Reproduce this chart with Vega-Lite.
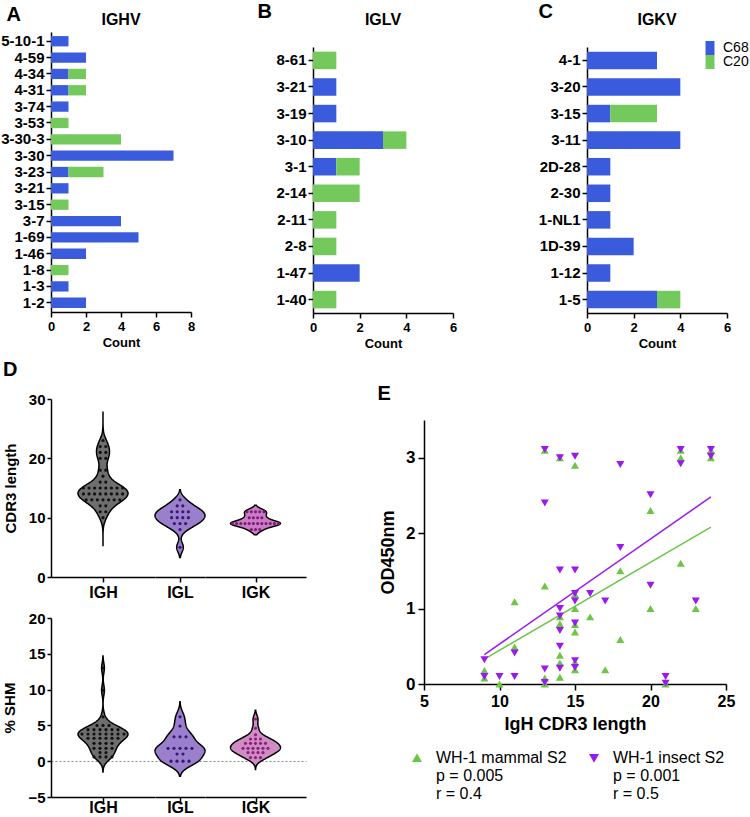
{
  "$schema": "https://vega.github.io/schema/vega-lite/v6.json",
  "background": "white",
  "padding": {"left": 0, "top": 1, "right": 0, "bottom": 0},
  "config": {
    "font": "Liberation Sans",
    "view": {"stroke": null},
    "axis": {"grid": false, "domainColor": "#000", "domainWidth": 1.5, "tickColor": "#000", "tickWidth": 1.5, "labelColor": "#000", "titleColor": "#000", "labelFontWeight": "bold", "titleFontWeight": "bold", "labelFont": "Liberation Sans", "titleFont": "Liberation Sans", "labelOverlap": false},
    "title": {"font": "Liberation Sans", "fontWeight": "bold", "color": "#000"},
    "legend": {"labelFont": "Liberation Sans", "labelColor": "#000", "padding": 0}
  },
  "datasets": {
    "bars": [
      {"p": "A", "gene": "5-10-1", "s": "C68", "n": 1},
      {"p": "A", "gene": "4-59", "s": "C68", "n": 2},
      {"p": "A", "gene": "4-34", "s": "C68", "n": 1},
      {"p": "A", "gene": "4-34", "s": "C20", "n": 1},
      {"p": "A", "gene": "4-31", "s": "C68", "n": 1},
      {"p": "A", "gene": "4-31", "s": "C20", "n": 1},
      {"p": "A", "gene": "3-74", "s": "C68", "n": 1},
      {"p": "A", "gene": "3-53", "s": "C20", "n": 1},
      {"p": "A", "gene": "3-30-3", "s": "C20", "n": 4},
      {"p": "A", "gene": "3-30", "s": "C68", "n": 7},
      {"p": "A", "gene": "3-23", "s": "C68", "n": 1},
      {"p": "A", "gene": "3-23", "s": "C20", "n": 2},
      {"p": "A", "gene": "3-21", "s": "C68", "n": 1},
      {"p": "A", "gene": "3-15", "s": "C20", "n": 1},
      {"p": "A", "gene": "3-7", "s": "C68", "n": 4},
      {"p": "A", "gene": "1-69", "s": "C68", "n": 5},
      {"p": "A", "gene": "1-46", "s": "C68", "n": 2},
      {"p": "A", "gene": "1-8", "s": "C20", "n": 1},
      {"p": "A", "gene": "1-3", "s": "C68", "n": 1},
      {"p": "A", "gene": "1-2", "s": "C68", "n": 2},
      {"p": "B", "gene": "8-61", "s": "C20", "n": 1},
      {"p": "B", "gene": "3-21", "s": "C68", "n": 1},
      {"p": "B", "gene": "3-19", "s": "C68", "n": 1},
      {"p": "B", "gene": "3-10", "s": "C68", "n": 3},
      {"p": "B", "gene": "3-10", "s": "C20", "n": 1},
      {"p": "B", "gene": "3-1", "s": "C68", "n": 1},
      {"p": "B", "gene": "3-1", "s": "C20", "n": 1},
      {"p": "B", "gene": "2-14", "s": "C20", "n": 2},
      {"p": "B", "gene": "2-11", "s": "C20", "n": 1},
      {"p": "B", "gene": "2-8", "s": "C20", "n": 1},
      {"p": "B", "gene": "1-47", "s": "C68", "n": 2},
      {"p": "B", "gene": "1-40", "s": "C20", "n": 1},
      {"p": "C", "gene": "4-1", "s": "C68", "n": 3},
      {"p": "C", "gene": "3-20", "s": "C68", "n": 4},
      {"p": "C", "gene": "3-15", "s": "C68", "n": 1},
      {"p": "C", "gene": "3-15", "s": "C20", "n": 2},
      {"p": "C", "gene": "3-11", "s": "C68", "n": 4},
      {"p": "C", "gene": "2D-28", "s": "C68", "n": 1},
      {"p": "C", "gene": "2-30", "s": "C68", "n": 1},
      {"p": "C", "gene": "1-NL1", "s": "C68", "n": 1},
      {"p": "C", "gene": "1D-39", "s": "C68", "n": 2},
      {"p": "C", "gene": "1-12", "s": "C68", "n": 1},
      {"p": "C", "gene": "1-5", "s": "C68", "n": 3},
      {"p": "C", "gene": "1-5", "s": "C20", "n": 1}
    ],
    "cdr3": [
      {"g": "IGH", "v": 23},
      {"g": "IGH", "v": 22}, {"g": "IGH", "v": 22},
      {"g": "IGH", "v": 21}, {"g": "IGH", "v": 21},
      {"g": "IGH", "v": 20}, {"g": "IGH", "v": 20},
      {"g": "IGH", "v": 18}, {"g": "IGH", "v": 18},
      {"g": "IGH", "v": 17},
      {"g": "IGH", "v": 16}, {"g": "IGH", "v": 16},
      {"g": "IGH", "v": 15}, {"g": "IGH", "v": 15}, {"g": "IGH", "v": 15}, {"g": "IGH", "v": 15},
      {"g": "IGH", "v": 15}, {"g": "IGH", "v": 15}, {"g": "IGH", "v": 15}, {"g": "IGH", "v": 15},
      {"g": "IGH", "v": 14}, {"g": "IGH", "v": 14}, {"g": "IGH", "v": 14}, {"g": "IGH", "v": 14},
      {"g": "IGH", "v": 14}, {"g": "IGH", "v": 14}, {"g": "IGH", "v": 14}, {"g": "IGH", "v": 14},
      {"g": "IGH", "v": 13}, {"g": "IGH", "v": 13}, {"g": "IGH", "v": 13}, {"g": "IGH", "v": 13},
      {"g": "IGH", "v": 13}, {"g": "IGH", "v": 13}, {"g": "IGH", "v": 13},
      {"g": "IGH", "v": 12}, {"g": "IGH", "v": 12},
      {"g": "IGH", "v": 11}, {"g": "IGH", "v": 11},
      {"g": "IGH", "v": 10},
      {"g": "IGL", "v": 13},
      {"g": "IGL", "v": 12}, {"g": "IGL", "v": 12},
      {"g": "IGL", "v": 11}, {"g": "IGL", "v": 11}, {"g": "IGL", "v": 11}, {"g": "IGL", "v": 11},
      {"g": "IGL", "v": 10}, {"g": "IGL", "v": 10}, {"g": "IGL", "v": 10}, {"g": "IGL", "v": 10},
      {"g": "IGL", "v": 9}, {"g": "IGL", "v": 9}, {"g": "IGL", "v": 9},
      {"g": "IGL", "v": 8},
      {"g": "IGL", "v": 5},
      {"g": "IGK", "v": 11}, {"g": "IGK", "v": 11}, {"g": "IGK", "v": 11}, {"g": "IGK", "v": 11}, {"g": "IGK", "v": 11},
      {"g": "IGK", "v": 10}, {"g": "IGK", "v": 10}, {"g": "IGK", "v": 10}, {"g": "IGK", "v": 10},
      {"g": "IGK", "v": 9}, {"g": "IGK", "v": 9}, {"g": "IGK", "v": 9}, {"g": "IGK", "v": 9},
      {"g": "IGK", "v": 9}, {"g": "IGK", "v": 9}, {"g": "IGK", "v": 9}, {"g": "IGK", "v": 9},
      {"g": "IGK", "v": 9}, {"g": "IGK", "v": 9}, {"g": "IGK", "v": 9}, {"g": "IGK", "v": 9},
      {"g": "IGK", "v": 8}, {"g": "IGK", "v": 8}, {"g": "IGK", "v": 8}
    ],
    "shm": [
      {"g": "IGH", "v": 13.0},
      {"g": "IGH", "v": 9.9},
      {"g": "IGH", "v": 6.2},
      {"g": "IGH", "v": 5.0}, {"g": "IGH", "v": 5.0}, {"g": "IGH", "v": 5.0},
      {"g": "IGH", "v": 4.4}, {"g": "IGH", "v": 4.4}, {"g": "IGH", "v": 4.4}, {"g": "IGH", "v": 4.4}, {"g": "IGH", "v": 4.4}, {"g": "IGH", "v": 4.4},
      {"g": "IGH", "v": 3.8}, {"g": "IGH", "v": 3.8}, {"g": "IGH", "v": 3.8}, {"g": "IGH", "v": 3.8},
      {"g": "IGH", "v": 3.8}, {"g": "IGH", "v": 3.8}, {"g": "IGH", "v": 3.8}, {"g": "IGH", "v": 3.8},
      {"g": "IGH", "v": 3.2}, {"g": "IGH", "v": 3.2}, {"g": "IGH", "v": 3.2}, {"g": "IGH", "v": 3.2}, {"g": "IGH", "v": 3.2}, {"g": "IGH", "v": 3.2},
      {"g": "IGH", "v": 2.5}, {"g": "IGH", "v": 2.5}, {"g": "IGH", "v": 2.5}, {"g": "IGH", "v": 2.5},
      {"g": "IGH", "v": 1.8}, {"g": "IGH", "v": 1.8}, {"g": "IGH", "v": 1.8}, {"g": "IGH", "v": 1.8},
      {"g": "IGH", "v": 1.2}, {"g": "IGH", "v": 1.2},
      {"g": "IGH", "v": 0.6}, {"g": "IGH", "v": 0.6}, {"g": "IGH", "v": 0.6}, {"g": "IGH", "v": 0.6},
      {"g": "IGL", "v": 6.2},
      {"g": "IGL", "v": 4.9},
      {"g": "IGL", "v": 3.4}, {"g": "IGL", "v": 3.4}, {"g": "IGL", "v": 3.4},
      {"g": "IGL", "v": 1.8}, {"g": "IGL", "v": 1.8}, {"g": "IGL", "v": 1.8}, {"g": "IGL", "v": 1.8}, {"g": "IGL", "v": 1.8},
      {"g": "IGL", "v": 1.0}, {"g": "IGL", "v": 1.0},
      {"g": "IGL", "v": 0.0}, {"g": "IGL", "v": 0.0}, {"g": "IGL", "v": 0.0}, {"g": "IGL", "v": 0.0},
      {"g": "IGK", "v": 5.9},
      {"g": "IGK", "v": 4.6},
      {"g": "IGK", "v": 3.7},
      {"g": "IGK", "v": 3.1}, {"g": "IGK", "v": 3.1}, {"g": "IGK", "v": 3.1},
      {"g": "IGK", "v": 2.5}, {"g": "IGK", "v": 2.5}, {"g": "IGK", "v": 2.5}, {"g": "IGK", "v": 2.5}, {"g": "IGK", "v": 2.5},
      {"g": "IGK", "v": 1.8}, {"g": "IGK", "v": 1.8}, {"g": "IGK", "v": 1.8}, {"g": "IGK", "v": 1.8}, {"g": "IGK", "v": 1.8}, {"g": "IGK", "v": 1.8},
      {"g": "IGK", "v": 1.2}, {"g": "IGK", "v": 1.2}, {"g": "IGK", "v": 1.2}, {"g": "IGK", "v": 1.2},
      {"g": "IGK", "v": 0.5}, {"g": "IGK", "v": 0.5}, {"g": "IGK", "v": 0.5}
    ],
    "od": [
      {"s": "WH-1 mammal S2", "x": 9, "y": 0.18}, {"s": "WH-1 mammal S2", "x": 9, "y": 0.08},
      {"s": "WH-1 mammal S2", "x": 10, "y": 0.0},
      {"s": "WH-1 mammal S2", "x": 11, "y": 1.09}, {"s": "WH-1 mammal S2", "x": 11, "y": 0.49},
      {"s": "WH-1 mammal S2", "x": 13, "y": 3.1}, {"s": "WH-1 mammal S2", "x": 13, "y": 1.3}, {"s": "WH-1 mammal S2", "x": 13, "y": 0.08}, {"s": "WH-1 mammal S2", "x": 13, "y": 0.0},
      {"s": "WH-1 mammal S2", "x": 14, "y": 3.0}, {"s": "WH-1 mammal S2", "x": 14, "y": 0.89}, {"s": "WH-1 mammal S2", "x": 14, "y": 0.8}, {"s": "WH-1 mammal S2", "x": 14, "y": 0.38}, {"s": "WH-1 mammal S2", "x": 14, "y": 0.28}, {"s": "WH-1 mammal S2", "x": 14, "y": 0.09},
      {"s": "WH-1 mammal S2", "x": 15, "y": 2.9}, {"s": "WH-1 mammal S2", "x": 15, "y": 1.19}, {"s": "WH-1 mammal S2", "x": 15, "y": 1.0}, {"s": "WH-1 mammal S2", "x": 15, "y": 0.79}, {"s": "WH-1 mammal S2", "x": 15, "y": 0.69}, {"s": "WH-1 mammal S2", "x": 15, "y": 0.29}, {"s": "WH-1 mammal S2", "x": 15, "y": 0.19},
      {"s": "WH-1 mammal S2", "x": 16, "y": 0.89},
      {"s": "WH-1 mammal S2", "x": 17, "y": 0.19},
      {"s": "WH-1 mammal S2", "x": 18, "y": 1.5}, {"s": "WH-1 mammal S2", "x": 18, "y": 0.59},
      {"s": "WH-1 mammal S2", "x": 20, "y": 2.3}, {"s": "WH-1 mammal S2", "x": 20, "y": 1.0},
      {"s": "WH-1 mammal S2", "x": 21, "y": 0.0},
      {"s": "WH-1 mammal S2", "x": 22, "y": 3.1}, {"s": "WH-1 mammal S2", "x": 22, "y": 3.0}, {"s": "WH-1 mammal S2", "x": 22, "y": 1.6},
      {"s": "WH-1 mammal S2", "x": 23, "y": 1.0},
      {"s": "WH-1 mammal S2", "x": 24, "y": 3.1}, {"s": "WH-1 mammal S2", "x": 24, "y": 3.0},
      {"s": "WH-1 insect S2", "x": 9, "y": 0.32}, {"s": "WH-1 insect S2", "x": 9, "y": 0.1},
      {"s": "WH-1 insect S2", "x": 10, "y": 0.1},
      {"s": "WH-1 insect S2", "x": 11, "y": 0.41}, {"s": "WH-1 insect S2", "x": 11, "y": 0.1},
      {"s": "WH-1 insect S2", "x": 13, "y": 3.11}, {"s": "WH-1 insect S2", "x": 13, "y": 2.4}, {"s": "WH-1 insect S2", "x": 13, "y": 0.2}, {"s": "WH-1 insect S2", "x": 13, "y": 0.02},
      {"s": "WH-1 insect S2", "x": 14, "y": 3.0}, {"s": "WH-1 insect S2", "x": 14, "y": 1.51}, {"s": "WH-1 insect S2", "x": 14, "y": 1.0}, {"s": "WH-1 insect S2", "x": 14, "y": 0.9}, {"s": "WH-1 insect S2", "x": 14, "y": 0.71}, {"s": "WH-1 insect S2", "x": 14, "y": 0.5}, {"s": "WH-1 insect S2", "x": 14, "y": 0.21},
      {"s": "WH-1 insect S2", "x": 15, "y": 3.02}, {"s": "WH-1 insect S2", "x": 15, "y": 1.51}, {"s": "WH-1 insect S2", "x": 15, "y": 1.2}, {"s": "WH-1 insect S2", "x": 15, "y": 1.1}, {"s": "WH-1 insect S2", "x": 15, "y": 0.81}, {"s": "WH-1 insect S2", "x": 15, "y": 0.31}, {"s": "WH-1 insect S2", "x": 15, "y": 0.22},
      {"s": "WH-1 insect S2", "x": 16, "y": 1.2},
      {"s": "WH-1 insect S2", "x": 17, "y": 1.1},
      {"s": "WH-1 insect S2", "x": 18, "y": 2.91}, {"s": "WH-1 insect S2", "x": 18, "y": 1.81},
      {"s": "WH-1 insect S2", "x": 20, "y": 2.51}, {"s": "WH-1 insect S2", "x": 20, "y": 1.31},
      {"s": "WH-1 insect S2", "x": 21, "y": 0.1}, {"s": "WH-1 insect S2", "x": 21, "y": 0.01},
      {"s": "WH-1 insect S2", "x": 22, "y": 3.11}, {"s": "WH-1 insect S2", "x": 22, "y": 2.92},
      {"s": "WH-1 insect S2", "x": 23, "y": 1.1},
      {"s": "WH-1 insect S2", "x": 24, "y": 3.11}, {"s": "WH-1 insect S2", "x": 24, "y": 3.02}
    ],
    "fit": [
      {"s": "WH-1 mammal S2", "x": 9, "y": 0.33}, {"s": "WH-1 mammal S2", "x": 24, "y": 2.08},
      {"s": "WH-1 insect S2", "x": 9, "y": 0.39}, {"s": "WH-1 insect S2", "x": 24, "y": 2.48}
    ]
  },
  "resolve": {"scale": {"color": "independent", "shape": "independent"}, "legend": {"color": "independent", "shape": "independent"}},
  "spacing": 10,
  "vconcat": [
    {
      "spacing": 62,
      "resolve": {"scale": {"color": "independent"}, "legend": {"color": "independent"}},
      "hconcat": [
        {
          "width": 140, "height": 280,
          "title": {"text": "IGHV", "fontSize": 16, "offset": 0, "dy": 24},
          "data": {"name": "bars"},
          "transform": [{"filter": {"field": "p", "equal": "A"}}],
          "mark": {"type": "bar"},
          "encoding": {
            "y": {"field": "gene", "type": "nominal", "sort": ["5-10-1", "4-59", "4-34", "4-31", "3-74", "3-53", "3-30-3", "3-30", "3-23", "3-21", "3-15", "3-7", "1-69", "1-46", "1-8", "1-3", "1-2"], "scale": {"paddingInner": 0.37, "paddingOuter": 0.25}, "axis": {"title": "A", "titleAngle": 0, "titleAlign": "left", "titleBaseline": "alphabetic", "titleX": -45, "titleY": -12, "titleFontSize": 20, "labelFontSize": 15, "tickSize": 5, "labelPadding": 2}},
            "x": {"field": "n", "type": "quantitative", "scale": {"domain": [0, 8], "nice": false}, "axis": {"values": [0, 2, 4, 6, 8], "title": "Count", "labelFontSize": 13, "titleFontSize": 13, "tickSize": 5, "labelPadding": 3, "titlePadding": 3, "labelFlush": false}},
            "color": {"field": "s", "type": "nominal", "scale": {"domain": ["C68", "C20"], "range": ["#3a5bdb", "#74c95c"]}, "legend": null},
            "order": {"field": "s", "sort": "descending"}
          }
        },
        {
          "spacing": 81,
          "resolve": {"scale": {"color": "independent"}, "legend": {"color": "independent"}},
          "hconcat": [
            {
              "spacing": 0,
              "bounds": "flush",
              "vconcat": [
                {
                  "width": 140, "height": 15,
                  "title": {"text": "IGLV", "fontSize": 16, "offset": 4},
                  "data": {"name": "bars"},
                  "mark": {"type": "rule", "opacity": 0},
                  "encoding": {}
                },
                {
                  "width": 140, "height": 266,
                  "data": {"name": "bars"},
                  "transform": [{"filter": {"field": "p", "equal": "B"}}],
                  "mark": {"type": "bar"},
                  "encoding": {
                    "y": {"field": "gene", "type": "nominal", "sort": ["8-61", "3-21", "3-19", "3-10", "3-1", "2-14", "2-11", "2-8", "1-47", "1-40"], "scale": {"paddingInner": 0.34, "paddingOuter": 0.175}, "axis": {"title": "B", "titleAngle": 0, "titleAlign": "left", "titleBaseline": "alphabetic", "titleX": -56, "titleY": -30, "titleFontSize": 20, "labelFontSize": 15, "tickSize": 5, "labelPadding": 2}},
                    "x": {"field": "n", "type": "quantitative", "scale": {"domain": [0, 6], "nice": false}, "axis": {"values": [0, 2, 4, 6], "title": "Count", "labelFontSize": 13, "titleFontSize": 13, "tickSize": 5, "labelPadding": 3, "titlePadding": 3, "labelFlush": false}},
                    "color": {"field": "s", "type": "nominal", "scale": {"domain": ["C68", "C20"], "range": ["#3a5bdb", "#74c95c"]}, "legend": null},
                    "order": {"field": "s", "sort": "descending"}
                  }
                }
              ]
            },
            {
              "spacing": 0,
              "bounds": "flush",
              "vconcat": [
                {
                  "width": 140, "height": 15,
                  "title": {"text": "IGKV", "fontSize": 16, "offset": 4},
                  "data": {"name": "bars"},
                  "mark": {"type": "rule", "opacity": 0},
                  "encoding": {}
                },
                {
                  "width": 140, "height": 266,
                  "data": {"name": "bars"},
                  "transform": [{"filter": {"field": "p", "equal": "C"}}],
                  "mark": {"type": "bar"},
                  "encoding": {
                    "y": {"field": "gene", "type": "nominal", "sort": ["4-1", "3-20", "3-15", "3-11", "2D-28", "2-30", "1-NL1", "1D-39", "1-12", "1-5"], "scale": {"paddingInner": 0.34, "paddingOuter": 0.175}, "axis": {"title": "C", "titleAngle": 0, "titleAlign": "left", "titleBaseline": "alphabetic", "titleX": -49, "titleY": -30, "titleFontSize": 20, "labelFontSize": 15, "tickSize": 5, "labelPadding": 2}},
                    "x": {"field": "n", "type": "quantitative", "scale": {"domain": [0, 6], "nice": false}, "axis": {"values": [0, 2, 4, 6], "title": "Count", "labelFontSize": 13, "titleFontSize": 13, "tickSize": 5, "labelPadding": 3, "titlePadding": 3, "labelFlush": false}},
                    "color": {"field": "s", "type": "nominal", "scale": {"domain": ["C68", "C20"], "range": ["#3a5bdb", "#74c95c"]}, "legend": {"title": null, "orient": "none", "legendX": 116, "legendY": 9, "symbolType": "M-0.64,-1H0.64V1H-0.64Z", "symbolSize": 196, "symbolStrokeWidth": 0, "labelFontSize": 14, "labelFontWeight": "normal", "labelOffset": 6, "rowPadding": 0}},
                    "order": {"field": "s", "sort": "descending"}
                  }
                }
              ]
            }
          ]
        }
      ]
    },
    {
      "spacing": 71,
      "resolve": {"scale": {"color": "independent", "shape": "independent"}, "legend": {"color": "independent", "shape": "independent"}},
      "hconcat": [
        {
          "title": {"text": "D", "anchor": "start", "fontSize": 20, "offset": 12},
          "spacing": 10,
          "vconcat": [
            {
              "spacing": 0,
              "bounds": "flush",
              "hconcat": [
                {
                  "width": 104, "height": 178,
                  "data": {"name": "cdr3"},
                  "transform": [{"filter": {"field": "g", "equal": "IGH"}}],
                  "layer": [
                    {
                      "transform": [{"density": "v", "bandwidth": 1.0, "extent": [5.2, 27.9], "steps": 200}],
                      "mark": {"type": "area", "orient": "horizontal", "fill": "#6e6e6e", "stroke": "#000", "strokeWidth": 1.5},
                      "encoding": {
                        "y": {"field": "value", "type": "quantitative", "scale": {"domain": [0, 30], "nice": false}, "axis": {"title": "CDR3 length", "values": [0, 10, 20, 30], "labelFontSize": 15, "titleFontSize": 15, "tickSize": 4, "labelPadding": 2, "titlePadding": 10}},
                        "x": {"field": "density", "type": "quantitative", "stack": "center", "impute": null, "scale": {"padding": 27, "nice": false, "zero": false}, "axis": null}
                      }
                    },
                    {
                      "transform": [{"window": [{"op": "row_number", "as": "id"}]}],
                      "mark": {"type": "circle", "size": 10, "color": "#111", "opacity": 1, "xOffset": -2.8},
                      "encoding": {
                        "y": {"field": "v", "type": "quantitative", "scale": {"domain": [0, 30], "nice": false}, "axis": {"title": "CDR3 length", "values": [0, 10, 20, 30], "labelFontSize": 15, "titleFontSize": 15, "tickSize": 4, "labelPadding": 2, "titlePadding": 10}},
                        "x": {"aggregate": "count", "type": "quantitative", "stack": "center", "scale": {"domain": [-5.29, 13.29], "nice": false, "zero": false}, "axis": {"orient": "bottom", "values": [4], "labels": false, "title": "IGH", "titleFontSize": 16, "tickSize": 5, "titlePadding": 2}},
                        "detail": {"field": "id", "type": "quantitative"}
                      }
                    }
                  ],
                  "resolve": {"scale": {"x": "independent"}}
                },
                {
                  "width": 50, "height": 178,
                  "data": {"name": "cdr3"},
                  "transform": [{"filter": {"field": "g", "equal": "IGL"}}],
                  "layer": [
                    {
                      "transform": [{"density": "v", "bandwidth": 0.8, "extent": [3.3, 14.7], "steps": 200}],
                      "mark": {"type": "area", "orient": "horizontal", "fill": "#9a80cc", "stroke": "#000", "strokeWidth": 1.5},
                      "encoding": {
                        "y": {"field": "value", "type": "quantitative", "scale": {"domain": [0, 30], "nice": false}, "axis": null},
                        "x": {"field": "density", "type": "quantitative", "stack": "center", "impute": null, "scale": {"padding": 0, "nice": false, "zero": false}, "axis": null}
                      }
                    },
                    {
                      "transform": [{"window": [{"op": "row_number", "as": "id"}]}],
                      "mark": {"type": "circle", "size": 10, "color": "#3a1573", "opacity": 1, "xOffset": -2.8},
                      "encoding": {
                        "y": {"field": "v", "type": "quantitative", "scale": {"domain": [0, 30], "nice": false}, "axis": null},
                        "x": {"aggregate": "count", "type": "quantitative", "stack": "center", "scale": {"domain": [-2.46, 6.46], "nice": false, "zero": false}, "axis": {"orient": "bottom", "values": [2], "labels": false, "title": "IGL", "titleFontSize": 16, "tickSize": 5, "titlePadding": 2}},
                        "detail": {"field": "id", "type": "quantitative"}
                      }
                    }
                  ],
                  "resolve": {"scale": {"x": "independent"}}
                },
                {
                  "width": 101, "height": 178,
                  "data": {"name": "cdr3"},
                  "transform": [{"filter": {"field": "g", "equal": "IGK"}}],
                  "layer": [
                    {
                      "transform": [{"density": "v", "bandwidth": 0.5, "extent": [7.1, 12.1], "steps": 200}],
                      "mark": {"type": "area", "orient": "horizontal", "fill": "#c87dc6", "stroke": "#000", "strokeWidth": 1.5},
                      "encoding": {
                        "y": {"field": "value", "type": "quantitative", "scale": {"domain": [0, 30], "nice": false}, "axis": null},
                        "x": {"field": "density", "type": "quantitative", "stack": "center", "impute": null, "scale": {"padding": 25.5, "nice": false, "zero": false}, "axis": null}
                      }
                    },
                    {
                      "transform": [{"window": [{"op": "row_number", "as": "id"}]}],
                      "mark": {"type": "circle", "size": 9, "color": "#7d1a70", "opacity": 1, "xOffset": -2.1},
                      "encoding": {
                        "y": {"field": "v", "type": "quantitative", "scale": {"domain": [0, 30], "nice": false}, "axis": null},
                        "x": {"aggregate": "count", "type": "quantitative", "stack": "center", "scale": {"domain": [-6.0, 18.0], "nice": false, "zero": false}, "axis": {"orient": "bottom", "values": [6], "labels": false, "title": "IGK", "titleFontSize": 16, "tickSize": 5, "titlePadding": 2}},
                        "detail": {"field": "id", "type": "quantitative"}
                      }
                    }
                  ],
                  "resolve": {"scale": {"x": "independent"}}
                }
              ]
            },
            {
              "spacing": 0,
              "bounds": "flush",
              "hconcat": [
                {
                  "width": 104, "height": 179,
                  "data": {"name": "shm"},
                  "transform": [{"filter": {"field": "g", "equal": "IGH"}}],
                  "layer": [
                    {
                      "transform": [{"density": "v", "bandwidth": 0.7, "extent": [-1.5, 14.7], "steps": 200}],
                      "mark": {"type": "area", "orient": "horizontal", "fill": "#6e6e6e", "stroke": "#000", "strokeWidth": 1.5},
                      "encoding": {
                        "y": {"field": "value", "type": "quantitative", "scale": {"domain": [-5, 20], "nice": false}, "axis": {"title": "% SHM", "values": [-5, 0, 5, 10, 15, 20], "labelFontSize": 15, "titleFontSize": 15, "tickSize": 4, "labelPadding": 2, "titlePadding": 10, "grid": true, "gridDash": [2, 2], "gridColor": "#888", "gridWidth": 1, "gridOpacity": {"condition": {"test": "datum.value === 0", "value": 1}, "value": 0}}},
                        "x": {"field": "density", "type": "quantitative", "stack": "center", "impute": null, "scale": {"padding": 27, "nice": false, "zero": false}, "axis": null}
                      }
                    },
                    {
                      "transform": [{"window": [{"op": "row_number", "as": "id"}]}],
                      "mark": {"type": "circle", "size": 10, "color": "#111", "opacity": 1, "xOffset": -3},
                      "encoding": {
                        "y": {"field": "v", "type": "quantitative", "scale": {"domain": [-5, 20], "nice": false}, "axis": {"title": "% SHM", "values": [-5, 0, 5, 10, 15, 20], "labelFontSize": 15, "titleFontSize": 15, "tickSize": 4, "labelPadding": 2, "titlePadding": 10, "grid": true, "gridDash": [2, 2], "gridColor": "#888", "gridWidth": 1, "gridOpacity": {"condition": {"test": "datum.value === 0", "value": 1}, "value": 0}}},
                        "x": {"aggregate": "count", "type": "quantitative", "stack": "center", "scale": {"domain": [-4.67, 12.67], "nice": false, "zero": false}, "axis": {"orient": "bottom", "values": [4], "labels": false, "title": "IGH", "titleFontSize": 16, "tickSize": 5, "titlePadding": -3}},
                        "detail": {"field": "id", "type": "quantitative"}
                      }
                    }
                  ],
                  "resolve": {"scale": {"x": "independent"}}
                },
                {
                  "width": 50, "height": 179,
                  "data": {"name": "shm"},
                  "transform": [{"filter": {"field": "g", "equal": "IGL"}}],
                  "layer": [
                    {
                      "transform": [{"density": "v", "bandwidth": 0.8, "extent": [-2.1, 8.3], "steps": 200}],
                      "mark": {"type": "area", "orient": "horizontal", "fill": "#9a80cc", "stroke": "#000", "strokeWidth": 1.5},
                      "encoding": {
                        "y": {"field": "value", "type": "quantitative", "scale": {"domain": [-5, 20], "nice": false}, "axis": {"values": [0], "labels": false, "ticks": false, "domain": false, "title": null, "grid": true, "gridDash": [2, 2], "gridColor": "#888", "gridWidth": 1}},
                        "x": {"field": "density", "type": "quantitative", "stack": "center", "impute": null, "scale": {"padding": 0, "nice": false, "zero": false}, "axis": null}
                      }
                    },
                    {
                      "transform": [{"window": [{"op": "row_number", "as": "id"}]}],
                      "mark": {"type": "circle", "size": 10, "color": "#3a1573", "opacity": 1, "xOffset": -3},
                      "encoding": {
                        "y": {"field": "v", "type": "quantitative", "scale": {"domain": [-5, 20], "nice": false}, "axis": {"values": [0], "labels": false, "ticks": false, "domain": false, "title": null, "grid": true, "gridDash": [2, 2], "gridColor": "#888", "gridWidth": 1}},
                        "x": {"aggregate": "count", "type": "quantitative", "stack": "center", "scale": {"domain": [-1.67, 6.67], "nice": false, "zero": false}, "axis": {"orient": "bottom", "values": [2.5], "labels": false, "title": "IGL", "titleFontSize": 16, "tickSize": 5, "titlePadding": -3}},
                        "detail": {"field": "id", "type": "quantitative"}
                      }
                    }
                  ],
                  "resolve": {"scale": {"x": "independent"}}
                },
                {
                  "width": 101, "height": 179,
                  "data": {"name": "shm"},
                  "transform": [{"filter": {"field": "g", "equal": "IGK"}}],
                  "layer": [
                    {
                      "transform": [{"density": "v", "bandwidth": 0.55, "extent": [-1.15, 7.1], "steps": 200}],
                      "mark": {"type": "area", "orient": "horizontal", "fill": "#d08cc4", "stroke": "#000", "strokeWidth": 1.5},
                      "encoding": {
                        "y": {"field": "value", "type": "quantitative", "scale": {"domain": [-5, 20], "nice": false}, "axis": {"values": [0], "labels": false, "ticks": false, "domain": false, "title": null, "grid": true, "gridDash": [2, 2], "gridColor": "#888", "gridWidth": 1}},
                        "x": {"field": "density", "type": "quantitative", "stack": "center", "impute": null, "scale": {"padding": 25.5, "nice": false, "zero": false}, "axis": null}
                      }
                    },
                    {
                      "transform": [{"window": [{"op": "row_number", "as": "id"}]}],
                      "mark": {"type": "circle", "size": 10, "color": "#8a2078", "opacity": 1, "xOffset": -2.5},
                      "encoding": {
                        "y": {"field": "v", "type": "quantitative", "scale": {"domain": [-5, 20], "nice": false}, "axis": {"values": [0], "labels": false, "ticks": false, "domain": false, "title": null, "grid": true, "gridDash": [2, 2], "gridColor": "#888", "gridWidth": 1}},
                        "x": {"aggregate": "count", "type": "quantitative", "stack": "center", "scale": {"domain": [-7.1, 13.1], "nice": false, "zero": false}, "axis": {"orient": "bottom", "values": [3], "labels": false, "title": "IGK", "titleFontSize": 16, "tickSize": 5, "titlePadding": -3}},
                        "detail": {"field": "id", "type": "quantitative"}
                      }
                    }
                  ],
                  "resolve": {"scale": {"x": "independent"}}
                }
              ]
            }
          ]
        },
        {
          "spacing": 0,
          "bounds": "flush",
          "vconcat": [
            {
              "width": 302, "height": 21,
              "title": {"text": "E", "anchor": "start", "fontSize": 20, "offset": 0, "dx": -46, "dy": 5},
              "data": {"name": "fit"},
              "mark": {"type": "rule", "opacity": 0},
              "encoding": {}
            },
            {
              "width": 302, "height": 264,
              "layer": [
                {
                  "data": {"name": "fit"},
                  "mark": {"type": "line", "strokeWidth": 1.5},
                  "encoding": {
                    "x": {"field": "x", "type": "quantitative", "scale": {"domain": [5, 25], "nice": false, "zero": false}, "axis": {"values": [5, 10, 15, 20, 25], "tickSize": 6, "labelFontSize": 16, "labelPadding": 3, "title": "IgH CDR3 length", "titleFontSize": 18, "titlePadding": 6, "labelFlush": false}},
                    "y": {"field": "y", "type": "quantitative", "scale": {"domain": [0, 3.5], "nice": false}, "axis": {"values": [0, 1, 2, 3], "format": "d", "tickSize": 6, "labelFontSize": 17, "labelPadding": 3, "title": "OD450nm", "titleFontSize": 18, "titlePadding": 8, "labelFlush": false}},
                    "color": {"field": "s", "type": "nominal", "scale": {"domain": ["WH-1 mammal S2", "WH-1 insect S2"], "range": ["#6cc644", "#9b19f0"]}},
                    "detail": {"field": "s", "type": "nominal"}
                  }
                },
                {
                  "data": {"name": "od"},
                  "mark": {"type": "point", "filled": true, "size": 65, "opacity": 1},
                  "encoding": {
                    "x": {"field": "x", "type": "quantitative", "scale": {"domain": [5, 25], "nice": false, "zero": false}, "axis": {"values": [5, 10, 15, 20, 25], "tickSize": 6, "labelFontSize": 16, "labelPadding": 3, "title": "IgH CDR3 length", "titleFontSize": 18, "titlePadding": 6, "labelFlush": false}},
                    "y": {"field": "y", "type": "quantitative", "scale": {"domain": [0, 3.5], "nice": false}, "axis": {"values": [0, 1, 2, 3], "format": "d", "tickSize": 6, "labelFontSize": 17, "labelPadding": 3, "title": "OD450nm", "titleFontSize": 18, "titlePadding": 8, "labelFlush": false}},
                    "color": {"field": "s", "type": "nominal", "scale": {"domain": ["WH-1 mammal S2", "WH-1 insect S2"], "range": ["#6cc644", "#9b19f0"]},
                      "legend": {
                        "title": null, "orient": "none", "legendX": -15, "legendY": 351, "direction": "horizontal",
                        "columnPadding": 19, "labelFontSize": 16, "labelFontWeight": "normal", "labelLimit": 250, "labelLineHeight": 20, "labelBaseline": "middle", "labelOffset": 11,
                        "symbolSize": 55, "symbolStrokeWidth": 1.5,
                        "labelExpr": "datum.label == 'WH-1 mammal S2' ? ['WH-1 mammal S2', 'p = 0.005', 'r = 0.4'] : ['WH-1 insect S2', 'p = 0.001', 'r = 0.5']",
                        "encode": {"symbols": {
                          "shape": {"signal": "datum.value == 'WH-1 mammal S2' ? 'M-2,0H2M0,-1.1L1.2,0.9L-1.2,0.9Z' : 'M-2,0H2M0,1.1L1.2,-0.9L-1.2,-0.9Z'"},
                          "stroke": {"signal": "datum.value == 'WH-1 mammal S2' ? '#6cc644' : '#9b19f0'"},
                          "fill": {"signal": "datum.value == 'WH-1 mammal S2' ? '#6cc644' : '#9b19f0'"}
                        }}
                      }
                    },
                    "shape": {"field": "s", "type": "nominal", "scale": {"domain": ["WH-1 mammal S2", "WH-1 insect S2"], "range": ["triangle-up", "triangle-down"]}, "legend": null}
                  }
                }
              ]
            }
          ]
        }
      ]
    }
  ]
}
